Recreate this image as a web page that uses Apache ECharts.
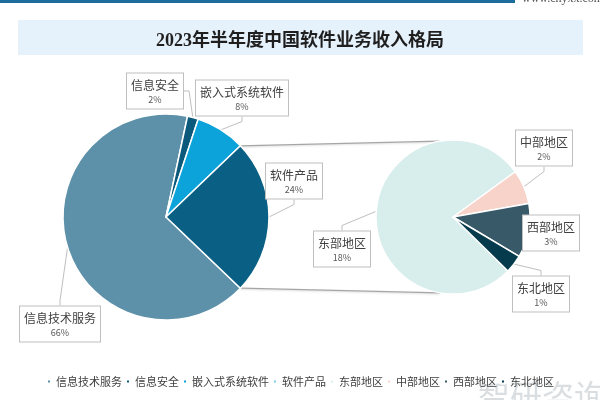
<!DOCTYPE html>
<html><head><meta charset="utf-8">
<script src="https://cdn.jsdelivr.net/npm/echarts@6/dist/echarts.min.js"></script>
<style>html,body{margin:0;padding:0;background:#fff}#c{width:600px;height:400px}</style>
</head><body><div id="c"></div>
<script>
const chartTitle = '2023年半年度中国软件业务收入格局';
const mainNames = ['信息技术服务', '信息安全', '嵌入式系统软件', '软件产品'];
const mainValues = [66.2, 1.7, 7.8, 24.3];
const subNames = ['东部地区', '中部地区', '西部地区', '东北地区'];
const subValues = [18.4, 1.7, 2.7, 0.9];

const mainColors = ['#5d91a9', '#0b5a7c', '#0ba3d9', '#0a5f84'];
const subColors = ['#d8eeec', '#f7d3ca', '#375968', '#063b4e'];
const legendColors = ['#5d91a9', '#0b5a7c', '#0ba3d9', '#7fcdea', '#d8eeec', '#f7d3ca', '#375968', '#063b4e'];

const C1 = [166, 217], R1 = 103;
const C2 = [453, 217], R2 = 77;

const mainTotal = mainValues.reduce((a, b) => a + b, 0);
const subTotal = subValues.reduce((a, b) => a + b, 0);
const halfOther = mainValues[3] / mainTotal * 360 / 2;
const mainStart = -halfOther;
const subStart = 36 + subValues[0] / subTotal * 360;

const mainLabelPos = [[60, 324], [155, 91], [242, 98], [294, 181]];
const subLabelPos = [[342, 249], [544, 148], [551, 233], [541, 294]];

const rad = a => a * Math.PI / 180;
const p1t = [C1[0] + R1 * Math.cos(rad(halfOther)), C1[1] - R1 * Math.sin(rad(halfOther))];
const p1b = [C1[0] + R1 * Math.cos(rad(-halfOther)), C1[1] - R1 * Math.sin(rad(-halfOther))];
const p2t = [C2[0] + R2 * Math.cos(rad(100)), C2[1] - R2 * Math.sin(rad(100))];
const p2b = [C2[0] + R2 * Math.cos(rad(-100)), C2[1] - R2 * Math.sin(rad(-100))];

const labelCommon = {
  show: true,
  overflow: 'none',
  formatter: p => '{n|' + p.name + '}\n{v|' + Math.round(p.value) + '%}',
  backgroundColor: '#fff',
  borderColor: '#bfbfbf',
  borderWidth: 1,
  padding: [3, 3, 2, 3],
  align: 'center',
  rich: {
    n: { fontSize: 12, color: '#404040', lineHeight: 17, fontFamily: 'Noto Sans CJK SC', align: 'center' },
    v: { fontSize: 9, color: '#595959', lineHeight: 13, fontFamily: 'Noto Sans CJK SC', align: 'center' }
  }
};
const lineCommon = { show: true, length: 10, length2: 5, lineStyle: { color: '#bfbfbf', width: 1 } };

function makeData(names, values, colors) {
  return names.map((n, i) => ({
    name: n, value: values[i],
    itemStyle: { color: colors[i] },
    label: { width: n.length * 12 + 2 }
  }));
}

const chart = echarts.init(document.getElementById('c'), null, { renderer: 'canvas' });
chart.setOption({
  animation: false,
  backgroundColor: '#fff',
  title: {
    text: chartTitle, left: 'center', top: 27,
    textStyle: { fontSize: 18, fontWeight: 'bold', color: '#1f1f1f', fontFamily: 'Liberation Serif, Noto Sans CJK SC' }
  },
  legend: {
    bottom: 8, left: 'center', icon: 'rect', itemWidth: 4, itemHeight: 4, itemGap: 3,
    textStyle: { fontSize: 11, color: '#404040', fontFamily: 'Noto Sans CJK SC' },
    data: mainNames.concat(subNames).map((n, i) => ({ name: n, itemStyle: { color: legendColors[i] } }))
  },
  graphic: [
    { type: 'rect', z: -10, shape: { x: 0, y: 0, width: 515, height: 3 }, style: { fill: '#1d6c9e' } },
    { type: 'text', z: -10, style: { x: 522, y: -7, text: 'www.chyxx.com', fontSize: 12, fill: '#555', fontFamily: 'Liberation Serif' } },
    { type: 'rect', z: -10, shape: { x: 18, y: 20, width: 565, height: 35 }, style: { fill: '#e6f2fb' } },
    { type: 'line', z: -5, shape: { x1: p1t[0], y1: p1t[1], x2: p2t[0], y2: p2t[1] }, style: { stroke: '#a6a6a6', lineWidth: 1.2, shadowBlur: 2, shadowColor: 'rgba(0,0,0,0.15)', shadowOffsetY: 1 } },
    { type: 'line', z: -5, shape: { x1: p1b[0], y1: p1b[1], x2: p2b[0], y2: p2b[1] }, style: { stroke: '#a6a6a6', lineWidth: 1.2, shadowBlur: 2, shadowColor: 'rgba(0,0,0,0.15)', shadowOffsetY: 1 } },
    { type: 'text', z: -10, style: { x: 478, y: 380, text: '智研咨询', fontSize: 32, fill: 'rgba(150,160,170,0.35)', fontFamily: 'Noto Sans CJK SC' } }
  ],
  series: [
    {
      type: 'pie', center: C1, radius: R1, startAngle: mainStart, clockwise: true,
      itemStyle: { borderColor: '#fff', borderWidth: 1.5 },
      label: labelCommon, labelLine: lineCommon,
      labelLayout: p => ({ x: mainLabelPos[p.dataIndex][0], y: mainLabelPos[p.dataIndex][1], align: 'center', verticalAlign: 'middle' }),
      emphasis: { disabled: true },
      data: makeData(mainNames, mainValues, mainColors)
    },
    {
      type: 'pie', center: C2, radius: R2, startAngle: subStart, clockwise: true,
      itemStyle: { borderColor: '#fff', borderWidth: 1.5 },
      label: labelCommon, labelLine: lineCommon,
      labelLayout: p => ({ x: subLabelPos[p.dataIndex][0], y: subLabelPos[p.dataIndex][1], align: 'center', verticalAlign: 'middle' }),
      emphasis: { disabled: true },
      data: makeData(subNames, subValues, subColors)
    }
  ]
});
</script>
</body></html>
